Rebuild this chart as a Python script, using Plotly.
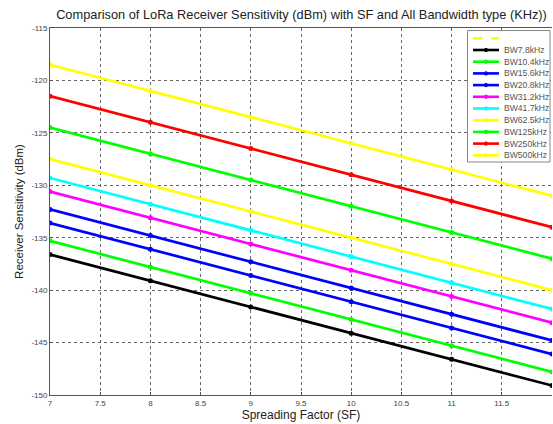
import plotly.graph_objects as go

# ---- data ----
spreading_factor = [7, 8, 9, 10, 11, 12]
bw_labels = ["BW7.8kHz", "BW10.4kHz", "BW15.6kHz", "BW20.8kHz", "BW31.2kHz",
             "BW41.7kHz", "BW62.5kHz", "BW125kHz", "BW250kHz", "BW500kHz"]
sens_bw7_8 = [-136.6, -139.1, -141.6, -144.1, -146.6, -149.1]
sens_bw10_4 = [-135.3, -137.8, -140.3, -142.8, -145.3, -147.8]
sens_bw15_6 = [-133.6, -136.1, -138.6, -141.1, -143.6, -146.1]
sens_bw20_8 = [-132.3, -134.8, -137.3, -139.8, -142.3, -144.8]
sens_bw31_2 = [-130.6, -133.1, -135.6, -138.1, -140.6, -143.1]
sens_bw41_7 = [-129.3, -131.8, -134.3, -136.8, -139.3, -141.8]
sens_bw62_5 = [-127.5, -130.0, -132.5, -135.0, -137.5, -140.0]
sens_bw125 = [-124.5, -127.0, -129.5, -132.0, -134.5, -137.0]
sens_bw250 = [-121.5, -124.0, -126.5, -129.0, -131.5, -134.0]
sens_bw500 = [-118.5, -121.0, -123.5, -126.0, -128.5, -131.0]
series = [sens_bw7_8, sens_bw10_4, sens_bw15_6, sens_bw20_8, sens_bw31_2,
          sens_bw41_7, sens_bw62_5, sens_bw125, sens_bw250, sens_bw500]
colors = ["#000000", "#00ff00", "#0000ff", "#0000ff", "#ff00ff",
          "#00ffff", "#ffff00", "#00ff00", "#ff0000", "#ffff00"]
x_ticks = [7, 7.5, 8, 8.5, 9, 9.5, 10, 10.5, 11, 11.5, 12]
y_ticks = [-150, -145, -140, -135, -130, -125, -120, -115]

W, H = 553, 424
L, R, T, B = 50, 1, 28, 29
PW, PH = W - L - R, H - T - B
FONT = "Liberation Sans, Arial, sans-serif"

fig = go.Figure()
for name, ys, c in zip(bw_labels, series, colors):
    fig.add_trace(go.Scatter(
        x=spreading_factor, y=ys, name=name, mode="lines+markers",
        line=dict(color=c, width=2.7),
        marker=dict(color=c, size=5, symbol="circle"),
        showlegend=False, hoverinfo="skip"))

# ---- custom compact legend (MATLAB style) ----
def px(xp):
    return (xp - L) / PW

def py(yp):
    return (H - B - yp) / PH

shapes = []
annotations = []
shapes.append(dict(type="rect", xref="paper", yref="paper",
                   x0=px(467.5), x1=px(550), y0=py(30.5), y1=py(162),
                   line=dict(color="#888888", width=1), fillcolor="white", layer="above"))
y0 = 38.3
shapes.append(dict(type="line", xref="paper", yref="paper",
                   x0=px(473), x1=px(499), y0=py(y0), y1=py(y0),
                   line=dict(color="#ffff00", width=2.6, dash="dash"), layer="above"))
step = 11.7
for i, (name, c) in enumerate(zip(bw_labels, colors)):
    yy = y0 + step * (i + 1)
    shapes.append(dict(type="line", xref="paper", yref="paper",
                       x0=px(473), x1=px(499), y0=py(yy), y1=py(yy),
                       line=dict(color=c, width=2.6), layer="above"))
    shapes.append(dict(type="circle", xref="paper", yref="paper",
                       x0=px(484.3), x1=px(487.7), y0=py(yy + 1.7), y1=py(yy - 1.7),
                       line=dict(color=c, width=1), fillcolor=c, layer="above"))
    annotations.append(dict(text=name, xref="paper", yref="paper",
                            x=px(501.5), y=py(yy), xanchor="left", yanchor="middle",
                            showarrow=False, font=dict(family=FONT, size=8.6, color="#555555")))

fig.update_layout(
    width=W, height=H,
    margin=dict(l=L, r=R, t=T, b=B),
    paper_bgcolor="white", plot_bgcolor="white",
    font=dict(family=FONT, color="#333333"),
    title=dict(text="Comparison of LoRa Receiver Sensitivity (dBm) with SF and All Bandwidth type (KHz))",
               x=(55 + 548) / 2 / W, xref="container", xanchor="center", y=1 - 15 / H, yref="container",
               yanchor="middle", font=dict(family=FONT, size=12.8, color="#222222")),
    shapes=shapes, annotations=annotations,
    hovermode=False, dragmode=False,
)
fig.update_xaxes(
    range=[7, 12], tickvals=x_ticks, ticktext=[f"{v:g}" for v in x_ticks],
    tickfont=dict(size=8, color="#444444"),
    showgrid=True, gridcolor="#666666", griddash="dot", gridwidth=1,
    showline=True, linecolor="#555555", linewidth=1, mirror=True,
    ticks="inside", ticklen=3, tickcolor="#555555",
    zeroline=False, fixedrange=True,
    title=dict(text="Spreading Factor (SF)", font=dict(size=12, color="#222222"), standoff=4),
)
fig.update_yaxes(
    range=[-150, -115], tickvals=y_ticks, ticktext=[str(v) for v in y_ticks],
    tickfont=dict(size=8, color="#444444"),
    showgrid=True, gridcolor="#666666", griddash="dot", gridwidth=1,
    showline=True, linecolor="#555555", linewidth=1,
    ticks="inside", ticklen=3, tickcolor="#555555",
    zeroline=False, fixedrange=True,
    title=dict(text="Receiver Sensitivity (dBm)", font=dict(size=11.5, color="#222222"), standoff=5),
)

fig.write_html("out.html", config={"displayModeBar": False, "staticPlot": True},
               post_script="document.body.style.margin='0';document.body.style.overflow='hidden';")
